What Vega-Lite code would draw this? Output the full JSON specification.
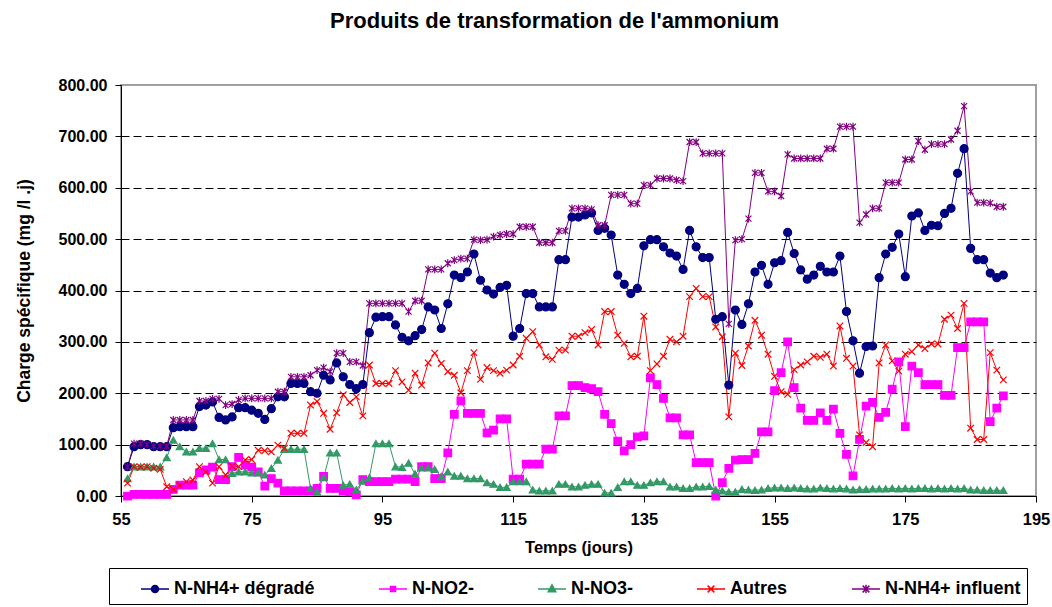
{
  "$schema": "https://vega.github.io/schema/vega-lite/v6.json",
  "width": 915,
  "height": 411,
  "autosize": {"type": "none"},
  "padding": {"left": 121, "top": 85, "right": 16, "bottom": 111},
  "background": "white",
  "config": {"view": {"stroke": "#a0a0a0", "strokeWidth": 2}, "font": "Liberation Sans"},
  "title": {"text": "Produits de transformation de l'ammonium", "font": "Liberation Sans", "fontSize": 22, "fontWeight": "bold", "color": "black", "anchor": "middle", "frame": "group", "dx": -24, "offset": 27, "baseline": "alphabetic"},
  "data": {"values": [
    {"j":56,"deg":57,"no2":0,"no3":34,"aut":25,"inf":57},
    {"j":57,"deg":96,"no2":3,"no3":57,"aut":57,"inf":102},
    {"j":58,"deg":100,"no2":3,"no3":57,"aut":56,"inf":102},
    {"j":59,"deg":100,"no2":3,"no3":57,"aut":57,"inf":100},
    {"j":60,"deg":96,"no2":3,"no3":57,"aut":54,"inf":97},
    {"j":61,"deg":96,"no2":3,"no3":57,"aut":52,"inf":97},
    {"j":62,"deg":96,"no2":3,"no3":75,"aut":18,"inf":97},
    {"j":63,"deg":133,"no2":13,"no3":109,"aut":13,"inf":148},
    {"j":64,"deg":135,"no2":21,"no3":96,"aut":21,"inf":148},
    {"j":65,"deg":135,"no2":21,"no3":86,"aut":28,"inf":148},
    {"j":66,"deg":135,"no2":21,"no3":86,"aut":31,"inf":148},
    {"j":67,"deg":174,"no2":45,"no3":93,"aut":57,"inf":185},
    {"j":68,"deg":177,"no2":51,"no3":93,"aut":47,"inf":185},
    {"j":69,"deg":183,"no2":56,"no3":102,"aut":25,"inf":189},
    {"j":70,"deg":153,"no2":32,"no3":71,"aut":57,"inf":189},
    {"j":71,"deg":148,"no2":32,"no3":71,"aut":41,"inf":177},
    {"j":72,"deg":154,"no2":57,"no3":44,"aut":58,"inf":179},
    {"j":73,"deg":172,"no2":75,"no3":47,"aut":57,"inf":187},
    {"j":74,"deg":172,"no2":60,"no3":47,"aut":70,"inf":190},
    {"j":75,"deg":167,"no2":56,"no3":45,"aut":71,"inf":190},
    {"j":76,"deg":161,"no2":47,"no3":45,"aut":89,"inf":190},
    {"j":77,"deg":149,"no2":19,"no3":41,"aut":88,"inf":190},
    {"j":78,"deg":170,"no2":34,"no3":54,"aut":86,"inf":190},
    {"j":79,"deg":193,"no2":25,"no3":70,"aut":99,"inf":203},
    {"j":80,"deg":193,"no2":10,"no3":91,"aut":93,"inf":203},
    {"j":81,"deg":219,"no2":10,"no3":91,"aut":122,"inf":232},
    {"j":82,"deg":219,"no2":10,"no3":91,"aut":122,"inf":232},
    {"j":83,"deg":219,"no2":10,"no3":91,"aut":122,"inf":232},
    {"j":84,"deg":203,"no2":10,"no3":15,"aut":177,"inf":235},
    {"j":85,"deg":200,"no2":15,"no3":8,"aut":184,"inf":245},
    {"j":86,"deg":235,"no2":38,"no3":36,"aut":161,"inf":250},
    {"j":87,"deg":226,"no2":15,"no3":84,"aut":130,"inf":242},
    {"j":88,"deg":259,"no2":15,"no3":84,"aut":162,"inf":278},
    {"j":89,"deg":232,"no2":10,"no3":21,"aut":197,"inf":278},
    {"j":90,"deg":217,"no2":8,"no3":23,"aut":182,"inf":261},
    {"j":91,"deg":209,"no2":2,"no3":12,"aut":193,"inf":261},
    {"j":92,"deg":217,"no2":32,"no3":29,"aut":156,"inf":254},
    {"j":93,"deg":318,"no2":28,"no3":36,"aut":255,"inf":375},
    {"j":94,"deg":348,"no2":28,"no3":102,"aut":219,"inf":375},
    {"j":95,"deg":349,"no2":28,"no3":102,"aut":219,"inf":375},
    {"j":96,"deg":349,"no2":28,"no3":102,"aut":219,"inf":375},
    {"j":97,"deg":333,"no2":33,"no3":57,"aut":244,"inf":375},
    {"j":98,"deg":309,"no2":33,"no3":56,"aut":222,"inf":375},
    {"j":99,"deg":302,"no2":33,"no3":64,"aut":206,"inf":359},
    {"j":100,"deg":312,"no2":28,"no3":43,"aut":239,"inf":380},
    {"j":101,"deg":324,"no2":57,"no3":55,"aut":216,"inf":380},
    {"j":102,"deg":368,"no2":57,"no3":55,"aut":259,"inf":441},
    {"j":103,"deg":362,"no2":34,"no3":52,"aut":278,"inf":441},
    {"j":104,"deg":326,"no2":34,"no3":38,"aut":258,"inf":441},
    {"j":105,"deg":374,"no2":84,"no3":47,"aut":242,"inf":453},
    {"j":106,"deg":430,"no2":159,"no3":39,"aut":235,"inf":459},
    {"j":107,"deg":425,"no2":185,"no3":39,"aut":201,"inf":462},
    {"j":108,"deg":436,"no2":161,"no3":34,"aut":244,"inf":462},
    {"j":109,"deg":471,"no2":161,"no3":34,"aut":279,"inf":499},
    {"j":110,"deg":420,"no2":161,"no3":34,"aut":227,"inf":498},
    {"j":111,"deg":401,"no2":123,"no3":26,"aut":250,"inf":499},
    {"j":112,"deg":393,"no2":128,"no3":23,"aut":244,"inf":505},
    {"j":113,"deg":406,"no2":150,"no3":17,"aut":239,"inf":508},
    {"j":114,"deg":410,"no2":150,"no3":17,"aut":245,"inf":510},
    {"j":115,"deg":311,"no2":33,"no3":28,"aut":255,"inf":510},
    {"j":116,"deg":326,"no2":33,"no3":28,"aut":272,"inf":524},
    {"j":117,"deg":394,"no2":62,"no3":28,"aut":307,"inf":524},
    {"j":118,"deg":394,"no2":62,"no3":12,"aut":320,"inf":524},
    {"j":119,"deg":368,"no2":62,"no3":10,"aut":294,"inf":493},
    {"j":120,"deg":368,"no2":91,"no3":10,"aut":271,"inf":493},
    {"j":121,"deg":368,"no2":91,"no3":10,"aut":266,"inf":493},
    {"j":122,"deg":460,"no2":156,"no3":23,"aut":284,"inf":516},
    {"j":123,"deg":460,"no2":156,"no3":23,"aut":284,"inf":516},
    {"j":124,"deg":543,"no2":215,"no3":18,"aut":311,"inf":560},
    {"j":125,"deg":543,"no2":215,"no3":18,"aut":311,"inf":560},
    {"j":126,"deg":547,"no2":211,"no3":21,"aut":318,"inf":560},
    {"j":127,"deg":551,"no2":209,"no3":23,"aut":324,"inf":558},
    {"j":128,"deg":517,"no2":203,"no3":23,"aut":294,"inf":527},
    {"j":129,"deg":521,"no2":159,"no3":6,"aut":359,"inf":527},
    {"j":130,"deg":508,"no2":141,"no3":6,"aut":359,"inf":586},
    {"j":131,"deg":430,"no2":107,"no3":17,"aut":313,"inf":586},
    {"j":132,"deg":412,"no2":88,"no3":28,"aut":297,"inf":586},
    {"j":133,"deg":394,"no2":100,"no3":28,"aut":271,"inf":569},
    {"j":134,"deg":404,"no2":115,"no3":21,"aut":272,"inf":569},
    {"j":135,"deg":487,"no2":117,"no3":21,"aut":350,"inf":605},
    {"j":136,"deg":499,"no2":230,"no3":26,"aut":244,"inf":605},
    {"j":137,"deg":499,"no2":217,"no3":28,"aut":257,"inf":618},
    {"j":138,"deg":485,"no2":190,"no3":28,"aut":272,"inf":618},
    {"j":139,"deg":473,"no2":152,"no3":18,"aut":305,"inf":618},
    {"j":140,"deg":467,"no2":152,"no3":18,"aut":300,"inf":615},
    {"j":141,"deg":441,"no2":119,"no3":15,"aut":311,"inf":613},
    {"j":142,"deg":517,"no2":119,"no3":15,"aut":388,"inf":689},
    {"j":143,"deg":485,"no2":65,"no3":18,"aut":404,"inf":689},
    {"j":144,"deg":464,"no2":65,"no3":18,"aut":388,"inf":667},
    {"j":145,"deg":464,"no2":65,"no3":19,"aut":388,"inf":667},
    {"j":146,"deg":344,"no2":0,"no3":12,"aut":329,"inf":667},
    {"j":147,"deg":349,"no2":26,"no3":10,"aut":310,"inf":667},
    {"j":148,"deg":216,"no2":54,"no3":8,"aut":154,"inf":335},
    {"j":149,"deg":362,"no2":70,"no3":8,"aut":278,"inf":498},
    {"j":150,"deg":334,"no2":71,"no3":13,"aut":254,"inf":500},
    {"j":151,"deg":374,"no2":71,"no3":12,"aut":292,"inf":540},
    {"j":152,"deg":436,"no2":83,"no3":11,"aut":342,"inf":629},
    {"j":153,"deg":449,"no2":125,"no3":12,"aut":313,"inf":629},
    {"j":154,"deg":412,"no2":125,"no3":15,"aut":276,"inf":593},
    {"j":155,"deg":454,"no2":205,"no3":16,"aut":233,"inf":593},
    {"j":156,"deg":458,"no2":240,"no3":16,"aut":203,"inf":584},
    {"j":157,"deg":513,"no2":300,"no3":15,"aut":198,"inf":665},
    {"j":158,"deg":472,"no2":211,"no3":16,"aut":246,"inf":657},
    {"j":159,"deg":440,"no2":171,"no3":15,"aut":255,"inf":657},
    {"j":160,"deg":422,"no2":147,"no3":14,"aut":261,"inf":657},
    {"j":161,"deg":430,"no2":147,"no3":14,"aut":272,"inf":657},
    {"j":162,"deg":447,"no2":162,"no3":16,"aut":270,"inf":657},
    {"j":163,"deg":436,"no2":147,"no3":15,"aut":276,"inf":676},
    {"j":164,"deg":436,"no2":169,"no3":14,"aut":253,"inf":676},
    {"j":165,"deg":467,"no2":122,"no3":15,"aut":331,"inf":719},
    {"j":166,"deg":359,"no2":81,"no3":14,"aut":268,"inf":719},
    {"j":167,"deg":302,"no2":39,"no3":12,"aut":253,"inf":719},
    {"j":168,"deg":239,"no2":110,"no3":13,"aut":119,"inf":532},
    {"j":169,"deg":291,"no2":175,"no3":13,"aut":104,"inf":548},
    {"j":170,"deg":292,"no2":182,"no3":14,"aut":96,"inf":560},
    {"j":171,"deg":425,"no2":153,"no3":14,"aut":259,"inf":560},
    {"j":172,"deg":471,"no2":163,"no3":14,"aut":294,"inf":610},
    {"j":173,"deg":484,"no2":208,"no3":15,"aut":263,"inf":610},
    {"j":174,"deg":510,"no2":261,"no3":14,"aut":243,"inf":610},
    {"j":175,"deg":427,"no2":135,"no3":15,"aut":276,"inf":655},
    {"j":176,"deg":545,"no2":253,"no3":14,"aut":281,"inf":655},
    {"j":177,"deg":551,"no2":240,"no3":15,"aut":294,"inf":691},
    {"j":178,"deg":517,"no2":217,"no3":15,"aut":287,"inf":674},
    {"j":179,"deg":527,"no2":217,"no3":14,"aut":296,"inf":685},
    {"j":180,"deg":526,"no2":217,"no3":15,"aut":296,"inf":685},
    {"j":181,"deg":550,"no2":196,"no3":14,"aut":344,"inf":685},
    {"j":182,"deg":560,"no2":196,"no3":15,"aut":352,"inf":694},
    {"j":183,"deg":628,"no2":289,"no3":14,"aut":326,"inf":711},
    {"j":184,"deg":676,"no2":289,"no3":15,"aut":375,"inf":759},
    {"j":185,"deg":482,"no2":339,"no3":12,"aut":132,"inf":593},
    {"j":186,"deg":460,"no2":339,"no3":12,"aut":110,"inf":571},
    {"j":187,"deg":460,"no2":339,"no3":11,"aut":110,"inf":571},
    {"j":188,"deg":434,"no2":145,"no3":11,"aut":279,"inf":570},
    {"j":189,"deg":425,"no2":171,"no3":11,"aut":245,"inf":563},
    {"j":190,"deg":430,"no2":195,"no3":11,"aut":226,"inf":563}
  ]},
  "transform": [{"fold": ["deg", "no2", "no3", "aut", "inf"], "as": ["serie", "valeur"]}],
  "encoding": {
    "x": {
      "field": "j", "type": "quantitative",
      "scale": {"domain": [55, 195], "nice": false, "zero": false},
      "axis": {
        "title": "Temps (jours)", "values": [55, 75, 95, 115, 135, 155, 175, 195], "format": "d",
        "grid": false, "domainColor": "black", "domainWidth": 1, "tickColor": "black", "tickSize": 6,
        "labelFont": "Liberation Sans", "labelFontSize": 16.5, "labelFontWeight": "bold", "labelColor": "black",
        "labelPadding": 9, "labelFlush": false, "labelOverlap": false,
        "titleFont": "Liberation Sans", "titleFontSize": 16.5, "titleFontWeight": "bold", "titleColor": "black", "titlePadding": 12
      }
    },
    "y": {
      "field": "valeur", "type": "quantitative",
      "scale": {"domain": [0, 800], "nice": false, "zero": true},
      "axis": {
        "title": "Charge spécifique (mg /l .j)", "values": [0, 100, 200, 300, 400, 500, 600, 700, 800], "format": ".2f",
        "grid": true, "gridColor": "black", "gridDash": [8, 4], "gridWidth": 1,
        "gridOpacity": {"condition": {"test": "datum.value === 0 || datum.value === 800", "value": 0}, "value": 1},
        "domainColor": "black", "domainWidth": 1, "tickColor": "black", "tickSize": 6,
        "labelFont": "Liberation Sans", "labelFontSize": 16, "labelFontWeight": "bold", "labelColor": "black",
        "labelPadding": 8, "labelFlush": false, "labelOverlap": false,
        "titleFont": "Liberation Sans", "titleFontSize": 17.5, "titleFontWeight": "bold", "titleColor": "black", "titlePadding": 25
      }
    }
  },
  "layer": [
    {
      "mark": {"type": "line", "strokeWidth": 1},
      "encoding": {
        "color": {"field": "serie", "type": "nominal", "scale": {"domain": ["deg", "no2", "no3", "aut", "inf"], "range": ["#000080", "#FF00FF", "#339966", "#FF0000", "#800080"]}, "legend": null}
      }
    },
    {
      "mark": {"type": "point", "strokeWidth": 1.2, "opacity": 1},
      "encoding": {
        "fill": {"field": "serie", "type": "nominal", "scale": {"domain": ["deg", "no2", "no3", "aut", "inf"], "range": ["#000080", "#FF00FF", "#339966", "#FF0000", "#800080"]}, "legend": null},
        "stroke": {"field": "serie", "type": "nominal", "scale": {"domain": ["deg", "no2", "no3", "aut", "inf"], "range": ["#000080", "#FF00FF", "#339966", "#FF0000", "#800080"]}, "legend": null},
        "shape": {"field": "serie", "type": "nominal", "scale": {"domain": ["deg", "no2", "no3", "aut", "inf"], "range": ["circle", "square", "triangle-up", "M-1,-1L1,1M-1,1L1,-1", "M-1,-1L1,1M-1,1L1,-1M0,-1.3L0,1.3"]}, "legend": null},
        "size": {"field": "serie", "type": "ordinal", "scale": {"domain": ["deg", "no2", "no3", "aut", "inf"], "range": [64, 36, 64, 56, 72]}, "legend": null}
      }
    },
    {
      "transform": [{"filter": "datum.valeur < 0"}],
      "mark": {"type": "point", "strokeWidth": 1.5, "opacity": 1},
      "encoding": {
        "fill": {"field": "serie", "type": "nominal", "scale": {"domain": ["deg", "no2", "no3", "aut", "inf"], "range": ["#000080", "#FF00FF", "#339966", "#FF0000", "#800080"]},
          "legend": {"title": null, "orient": "none", "legendX": -12, "legendY": 483, "direction": "horizontal", "columns": 5, "symbolSize": 784, "symbolStrokeWidth": 1.5, "symbolOffset": 25, "labelOffset": 4, "columnPadding": 38, "padding": 6, "strokeColor": "black", "fillColor": "white", "labelFont": "Liberation Sans", "labelFontSize": 18, "labelFontWeight": "bold", "labelColor": "black", "labelLimit": 400, "symbolOpacity": 1,
            "labelExpr": "datum.label === 'deg' ? 'N-NH4+ dégradé' : datum.label === 'no2' ? 'N-NO2-' : datum.label === 'no3' ? 'N-NO3-' : datum.label === 'aut' ? 'Autres' : 'N-NH4+ influent       '"}},
        "stroke": {"field": "serie", "type": "nominal", "scale": {"domain": ["deg", "no2", "no3", "aut", "inf"], "range": ["#000080", "#FF00FF", "#339966", "#FF0000", "#800080"]},
          "legend": {"title": null, "orient": "none", "legendX": -12, "legendY": 483, "direction": "horizontal", "columns": 5, "symbolSize": 784, "symbolStrokeWidth": 1.5, "symbolOffset": 25, "labelOffset": 4, "columnPadding": 38, "padding": 6, "strokeColor": "black", "fillColor": "white", "labelFont": "Liberation Sans", "labelFontSize": 18, "labelFontWeight": "bold", "labelColor": "black", "labelLimit": 400, "symbolOpacity": 1,
            "labelExpr": "datum.label === 'deg' ? 'N-NH4+ dégradé' : datum.label === 'no2' ? 'N-NO2-' : datum.label === 'no3' ? 'N-NO3-' : datum.label === 'aut' ? 'Autres' : 'N-NH4+ influent       '"}},
        "shape": {"field": "serie", "type": "nominal", "scale": {"domain": ["deg", "no2", "no3", "aut", "inf"], "range": ["M-1,0H1M-0.25,0A0.25,0.25,0,1,0,0.25,0A0.25,0.25,0,1,0,-0.25,0Z", "M-1,0H1M-0.18,-0.18H0.18V0.18H-0.18Z", "M-1,0H1M0,-0.3L0.27,0.2H-0.27Z", "M-1,0H1M-0.24,-0.24L0.24,0.24M-0.24,0.24L0.24,-0.24", "M-1,0H1M-0.24,-0.24L0.24,0.24M-0.24,0.24L0.24,-0.24M0,-0.3V0.3"]},
          "legend": {"title": null, "orient": "none", "legendX": -12, "legendY": 483, "direction": "horizontal", "columns": 5, "symbolSize": 784, "symbolStrokeWidth": 1.5, "symbolOffset": 25, "labelOffset": 4, "columnPadding": 38, "padding": 6, "strokeColor": "black", "fillColor": "white", "labelFont": "Liberation Sans", "labelFontSize": 18, "labelFontWeight": "bold", "labelColor": "black", "labelLimit": 400, "symbolOpacity": 1,
            "labelExpr": "datum.label === 'deg' ? 'N-NH4+ dégradé' : datum.label === 'no2' ? 'N-NO2-' : datum.label === 'no3' ? 'N-NO3-' : datum.label === 'aut' ? 'Autres' : 'N-NH4+ influent       '"}}
      }
    }
  ],
  "resolve": {"scale": {"fill": "independent", "stroke": "independent", "shape": "independent"}}
}
